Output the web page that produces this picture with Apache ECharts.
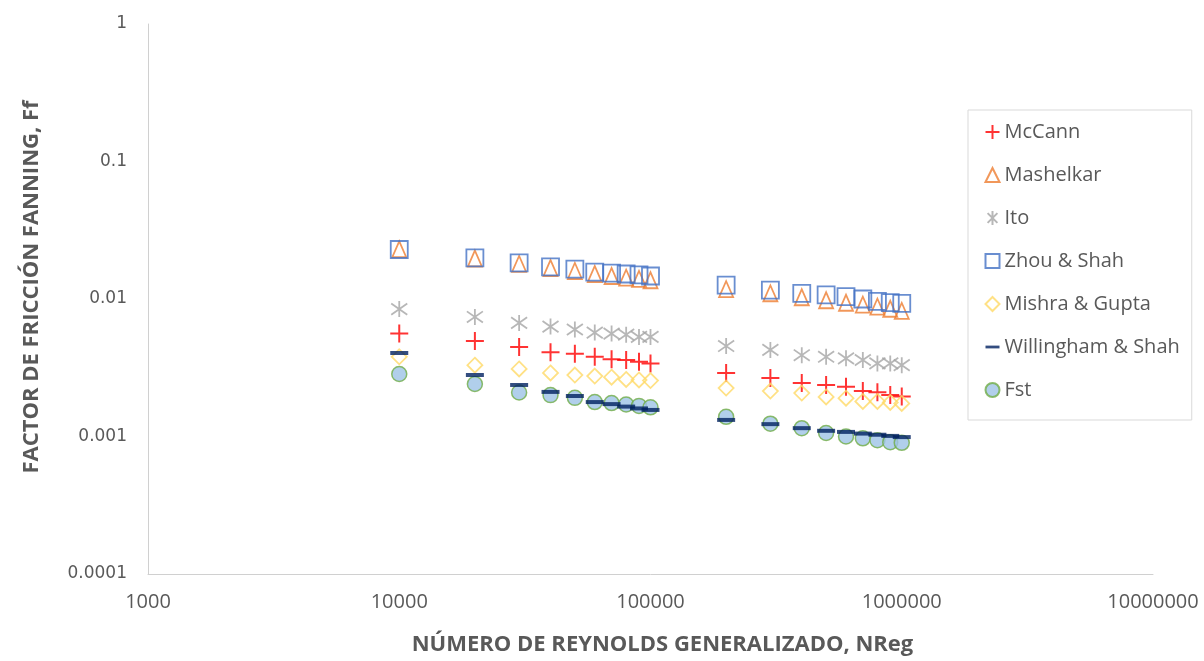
<!DOCTYPE html>
<html>
<head>
<meta charset="utf-8">
<script src="https://cdn.jsdelivr.net/npm/echarts@6/dist/echarts.min.js"></script>
<style>
  html, body { margin: 0; padding: 0; background: #fff; }
  #chart { width: 1204px; height: 661px; }
</style>
</head>
<body>
<div id="chart"></div>
<script>
// numero de Reynolds generalizado
var reynolds = [10000, 20000, 30000, 40000, 50000, 60000, 70000, 80000, 90000, 100000,
                200000, 300000, 400000, 500000, 600000, 700000, 800000, 900000, 1000000];

var mcCann     = [0.0056, 0.00495, 0.00448, 0.0041, 0.0040, 0.0038, 0.00365, 0.0036, 0.0035, 0.0034,
                  0.0029, 0.00266, 0.00245, 0.00237, 0.0023, 0.00214, 0.0021, 0.0020, 0.00195];
var mashelkar  = [0.023, 0.0197, 0.018, 0.0168, 0.016, 0.0152, 0.0147, 0.0143, 0.014, 0.0137,
                  0.0118, 0.011, 0.0103, 0.0098, 0.0094, 0.0091, 0.0088, 0.0085, 0.0082];
var ito        = [0.00845, 0.0074, 0.0067, 0.0063, 0.006, 0.0057, 0.0056, 0.0055, 0.0053, 0.0053,
                  0.00455, 0.00426, 0.0039, 0.0038, 0.0037, 0.0036, 0.0034, 0.0034, 0.0033];
var zhouShah   = [0.0229, 0.0199, 0.0183, 0.0171, 0.0165, 0.0157, 0.0154, 0.0152, 0.015, 0.0147,
                  0.0126, 0.0116, 0.011, 0.0107, 0.0104, 0.010, 0.0096, 0.0094, 0.0093];
var mishraGupta = [0.0038, 0.0033, 0.0031, 0.0029, 0.0028, 0.00275, 0.0027, 0.0026, 0.00258, 0.00255,
                  0.00225, 0.00214, 0.00207, 0.00194, 0.0019, 0.0018, 0.0018, 0.00177, 0.00174];
var willingham = [0.00405, 0.0028, 0.00237, 0.00211, 0.00197, 0.00178, 0.00172, 0.00165, 0.0016, 0.00156,
                  0.00132, 0.00123, 0.00115, 0.0011, 0.00108, 0.00105, 0.00103, 0.00101, 0.00099];
var fst        = [0.00285, 0.00241, 0.00209, 0.002, 0.00191, 0.00178, 0.00175, 0.00171, 0.00167, 0.00163,
                  0.00139, 0.00124, 0.00115, 0.00106, 0.001, 0.00097, 0.00094, 0.00091, 0.0009];

var xTicks = [1000, 10000, 100000, 1000000, 10000000];
var yTicks = [0.0001, 0.001, 0.01, 0.1, 1];

function pares(ys) {
	var out = [];
	for (var i = 0; i < reynolds.length; i++) out.push([reynolds[i], ys[i]]);
	return out;
}

var CRUZ = 'path://M0,5L10,5M5,0L5,10';
var ASTER = 'path://M5,0L5,10M1.5,1.5L8.5,8.5M1.5,8.5L8.5,1.5';
var GUION = 'path://M0,0L10,0L10,2L0,2Z';
var gris = '#595959';

var series = [
	{ name: 'Fst', data: pares(fst), symbol: 'circle', symbolSize: 15, z: 1,
	  itemStyle: { color: '#9dc3e6', borderColor: '#70ad47', borderWidth: 1.5 } },
	{ name: 'McCann', data: pares(mcCann), symbol: CRUZ, symbolSize: 18,
	  itemStyle: { color: 'none', borderColor: '#ff0000', borderWidth: 2 } },
	{ name: 'Mashelkar', data: pares(mashelkar), symbol: 'triangle', symbolSize: [14, 16],
	  itemStyle: { color: 'rgba(0,0,0,0)', borderColor: '#ed7d31', borderWidth: 1.8 } },
	{ name: 'Ito', data: pares(ito), symbol: ASTER, symbolSize: 16,
	  itemStyle: { color: 'none', borderColor: '#a5a5a5', borderWidth: 1.8 } },
	{ name: 'Zhou & Shah', data: pares(zhouShah), symbol: 'rect', symbolSize: 17,
	  itemStyle: { color: 'rgba(0,0,0,0)', borderColor: '#4472c4', borderWidth: 1.8 } },
	{ name: 'Mishra & Gupta', data: pares(mishraGupta), symbol: 'diamond', symbolSize: 15,
	  itemStyle: { color: 'rgba(0,0,0,0)', borderColor: '#ffd966', borderWidth: 1.8 } },
	{ name: 'Willingham & Shah', data: pares(willingham), symbol: GUION, symbolSize: [18, 4],
	  itemStyle: { color: '#002060', borderWidth: 0 } }
];
series.forEach(function(s) { s.type = 'scatter'; s.animation = false; });

var option = {
	backgroundColor: '#ffffff',
	grid: { left: 148, right: 51, top: 24, bottom: 87 },
	legend: {
		orient: 'vertical',
		left: 968,
		top: 110,
		padding: [12, 12, 20, 15],
		borderColor: '#d9d9d9',
		borderWidth: 1,
		itemGap: 23,
		itemWidth: 14,
		itemHeight: 14,
		textStyle: { fontFamily: 'Open Sans', fontSize: 20, color: gris },
		data: ['McCann', 'Mashelkar', 'Ito', 'Zhou & Shah', 'Mishra & Gupta', 'Willingham & Shah', 'Fst']
	},
	xAxis: {
		type: 'log', logBase: 10, min: xTicks[0], max: xTicks[xTicks.length - 1],
		name: 'NÚMERO DE REYNOLDS GENERALIZADO, NReg',
		nameLocation: 'middle', nameGap: 60,
		nameTextStyle: { fontFamily: 'Open Sans', fontWeight: 'bold', fontSize: 22, color: gris,
			padding: [0, 0, 0, 24] },
		axisLine: { lineStyle: { color: '#d0d0d0', width: 1 } },
		axisTick: { show: false },
		splitLine: { show: false },
		axisLabel: { fontFamily: 'Open Sans', fontSize: 20, color: gris, margin: 18,
			formatter: function(v) { return String(Math.round(v)); } }
	},
	yAxis: {
		type: 'log', logBase: 10, min: yTicks[0], max: yTicks[yTicks.length - 1],
		name: 'FACTOR DE FRICCIÓN FANNING, Ff',
		nameLocation: 'middle', nameGap: 105,
		nameTextStyle: { fontFamily: 'Open Sans', fontWeight: 'bold', fontSize: 22, color: gris,
			padding: [0, 0, 0, 24] },
		axisLine: { show: true, lineStyle: { color: '#d0d0d0', width: 1 } },
		axisTick: { show: false },
		splitLine: { show: false },
		axisLabel: { fontFamily: 'DejaVu Sans', fontSize: 17, color: gris, margin: 21,
			formatter: function(v) { return String(+v.toPrecision(1)); } }
	},
	series: series
};

var myChart = echarts.init(document.getElementById('chart'));
myChart.setOption(option);
</script>
</body>
</html>
